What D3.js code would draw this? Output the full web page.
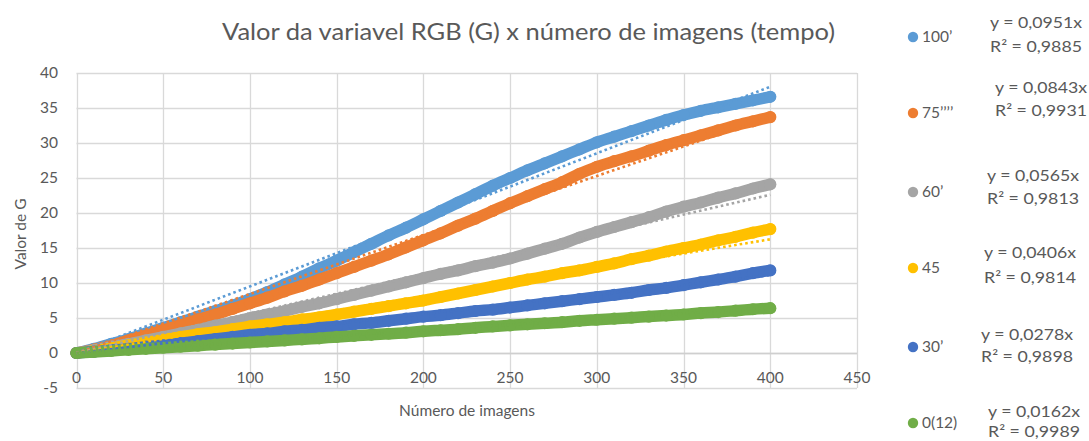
<!DOCTYPE html>
<html>
<head>
<meta charset="utf-8">
<script src="https://cdn.jsdelivr.net/npm/d3@7"></script>
<style>
html,body{margin:0;padding:0;background:#fff;}
svg{display:block;font-family:Lato,"Open Sans",sans-serif;}
</style>
</head>
<body>
<svg id="chart" width="1089" height="441"></svg>
<script>
// ---- data ----
const imageNumbers = [0,10,20,30,40,50,60,70,80,90,100,110,120,130,140,150,160,170,180,190,200,
  210,220,230,240,250,260,270,280,290,300,310,320,330,340,350,360,370,380,390,400];
const seriesNames = ["100’", "75’’’’", "60’", "45", "30’", "0(12)"];
const seriesColors = ["#5B9BD5", "#ED7D31", "#A5A5A5", "#FFC000", "#4472C4", "#70AD47"];
const values100 = [0,0.6,1.3,2.0,2.8,3.6,4.4,5.2,6.0,6.8,7.7,8.7,9.8,10.9,12.1,13.2,14.4,15.6,16.8,17.9,19.1,
  20.3,21.5,22.7,23.9,25.0,26.1,27.1,28.1,29.1,30.1,30.9,31.7,32.5,33.3,34.0,34.6,35.1,35.6,36.1,36.6];
const values75 = [0,0.5,1.1,1.8,2.5,3.3,4.0,4.8,5.5,6.3,7.1,7.9,8.8,9.6,10.5,11.4,12.3,13.2,14.1,15.1,16.1,
  17.1,18.2,19.2,20.3,21.4,22.4,23.4,24.4,25.6,26.6,27.4,28.1,28.9,29.7,30.4,31.1,31.8,32.5,33.1,33.7];
const values60 = [0,0.4,0.9,1.3,1.8,2.3,2.8,3.3,3.9,4.4,5.0,5.5,6.0,6.6,7.1,7.7,8.3,8.9,9.5,10.1,10.7,
  11.3,11.8,12.4,12.9,13.5,14.2,14.9,15.6,16.5,17.3,18.0,18.7,19.4,20.2,20.9,21.5,22.2,22.8,23.5,24.1];
const values45 = [0,0.3,0.7,1.1,1.5,1.9,2.3,2.7,3.0,3.4,3.8,4.1,4.4,4.8,5.1,5.5,5.9,6.3,6.7,7.1,7.5,
  8.0,8.5,9.0,9.5,10.0,10.5,10.9,11.4,11.8,12.3,12.8,13.4,13.9,14.5,15.0,15.5,16.1,16.6,17.2,17.7];
const values30 = [0,0.2,0.4,0.6,0.9,1.1,1.4,1.7,2.0,2.3,2.6,2.8,3.1,3.3,3.6,3.8,4.1,4.3,4.6,4.9,5.2,
  5.4,5.7,6.0,6.2,6.5,6.8,7.1,7.4,7.7,8.0,8.3,8.6,9.0,9.3,9.7,10.1,10.5,10.9,11.4,11.8];
const values0 = [0,0.15,0.3,0.45,0.6,0.75,0.9,1.05,1.2,1.35,1.5,1.65,1.8,1.95,2.1,2.3,2.45,2.6,2.75,2.9,3.1,
  3.25,3.4,3.6,3.8,3.95,4.1,4.25,4.4,4.6,4.75,4.9,5.05,5.2,5.35,5.5,5.7,5.85,6.05,6.25,6.4];
const seriesValues = [values100, values75, values60, values45, values30, values0];
const trendSlopes = [0.0951, 0.0843, 0.0565, 0.0406, 0.0278, 0.0162];
const trendEquations = ["y = 0,0951x", "y = 0,0843x", "y = 0,0565x", "y = 0,0406x", "y = 0,0278x", "y = 0,0162x"];
const trendR2 = ["R² = 0,9885", "R² = 0,9931", "R² = 0,9813", "R² = 0,9814", "R² = 0,9898", "R² = 0,9989"];
const xTicks = [0,50,100,150,200,250,300,350,400,450];
const yTicks = [-5,0,5,10,15,20,25,30,35,40];
const titleText = "Valor da variavel RGB (G) x número de imagens (tempo)";
const xTitle = "Número de imagens";
const yTitle = "Valor de G";

// ---- layout ----
const svg = d3.select("#chart");
const textColor = "#595959";
const gridColor = "#D9D9D9";
const x = d3.scaleLinear().domain([0, 450]).range([76.5, 857]);
const y = d3.scaleLinear().domain([-5, 40]).range([388, 73]);

function fit(sel, w) {
  const L = sel.node().getComputedTextLength();
  if (Math.abs(L - w) > 1) sel.attr("textLength", w).attr("lengthAdjust", "spacingAndGlyphs");
  return sel;
}

// gridlines
const grid = svg.append("g");
grid.selectAll("line.h").data(yTicks).join("line")
  .attr("x1", x(0)).attr("x2", x(450))
  .attr("y1", d => Math.round(y(d)) + 0.5).attr("y2", d => Math.round(y(d)) + 0.5)
  .attr("stroke", gridColor).attr("stroke-width", 1.3);
grid.selectAll("line.v").data(xTicks).join("line")
  .attr("x1", d => Math.round(x(d)) + 0.5).attr("x2", d => Math.round(x(d)) + 0.5)
  .attr("y1", y(40)).attr("y2", y(-5))
  .attr("stroke", gridColor).attr("stroke-width", 1.3);
svg.append("line").attr("x1", x(0)).attr("x2", x(450))
  .attr("y1", Math.round(y(0)) + 0.5).attr("y2", Math.round(y(0)) + 0.5)
  .attr("stroke", "#CFCFCF").attr("stroke-width", 1.5);

// tick labels
svg.append("g").selectAll("text").data(yTicks).join("text")
  .attr("x", 58).attr("y", d => y(d)).attr("dy", "0.35em")
  .attr("text-anchor", "end").attr("font-size", 15.5).attr("fill", textColor)
  .text(d => d);
svg.append("g").selectAll("text").data(xTicks).join("text")
  .attr("x", d => x(d)).attr("y", 378).attr("dy", "0.35em")
  .attr("text-anchor", "middle").attr("font-size", 15.5).attr("fill", textColor)
  .text(d => d);

// series bands
const line = d3.line().x((d, i) => x(imageNumbers[i])).y(d => y(d)).curve(d3.curveMonotoneX);
seriesValues.forEach((vals, k) => {
  const g = svg.append("g");
  g.append("path").datum(vals).attr("d", line)
    .attr("fill", "none").attr("stroke", seriesColors[k])
    .attr("stroke-width", 11.5).attr("stroke-linecap", "round").attr("stroke-linejoin", "round");
  g.selectAll("circle").data(vals).join("circle")
    .attr("cx", (d, i) => x(imageNumbers[i])).attr("cy", d => y(d)).attr("r", 6.1)
    .attr("fill", seriesColors[k]);
});

// trendlines (dotted)
trendSlopes.forEach((s, k) => {
  svg.append("line")
    .attr("x1", x(0)).attr("y1", y(0))
    .attr("x2", x(400)).attr("y2", y(s * 400))
    .attr("stroke", seriesColors[k]).attr("stroke-width", 2.6)
    .attr("stroke-dasharray", "2.6 3");
});

// title
fit(svg.append("text").attr("x", 528.5).attr("y", 40).attr("text-anchor", "middle")
  .attr("font-size", 23).attr("fill", textColor).text(titleText), 613);

// axis titles
fit(svg.append("text").attr("x", 467).attr("y", 411).attr("dy", "0.35em")
  .attr("text-anchor", "middle").attr("font-size", 15.5).attr("fill", textColor).text(xTitle), 135);
svg.append("text").attr("transform", "translate(21,234) rotate(-90)").attr("dy", "0.35em")
  .attr("text-anchor", "middle").attr("font-size", 15.5).attr("fill", textColor).text(yTitle);

// legend
const legendY = [37, 113, 192, 268, 347, 423];
const eqX = [1036, 1041, 1033, 1030, 1027, 1034];
const eqY = [23, 88, 176, 253, 335, 412];
const r2Y = [47, 111, 199, 278, 357, 432];
const leg = svg.append("g");
seriesNames.forEach((n, k) => {
  leg.append("circle").attr("cx", 913).attr("cy", legendY[k]).attr("r", 5.2).attr("fill", seriesColors[k]);
  leg.append("text").attr("x", 922).attr("y", legendY[k]).attr("dy", "0.35em")
    .attr("font-size", 15.5).attr("fill", textColor).text(n);
  fit(leg.append("text").attr("x", eqX[k]).attr("y", eqY[k]).attr("dy", "0.35em").attr("text-anchor", "middle")
    .attr("font-size", 15.5).attr("fill", textColor).text(trendEquations[k]), 92);
  fit(leg.append("text").attr("x", eqX[k]).attr("y", r2Y[k]).attr("dy", "0.35em").attr("text-anchor", "middle")
    .attr("font-size", 15.5).attr("fill", textColor).text(trendR2[k]), 92);
});
</script>
</body>
</html>
